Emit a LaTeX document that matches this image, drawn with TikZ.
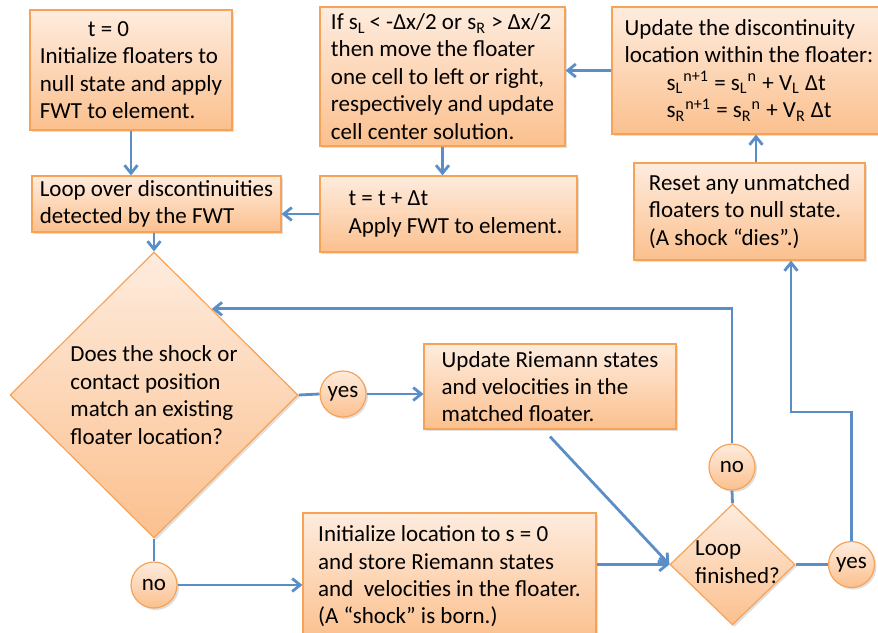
\documentclass[tikz,border=0pt]{standalone}
\usepackage{fontspec}
\setmainfont{Carlito}
\usepackage{tikz}
\usetikzlibrary{shapes.geometric,arrows.meta,calc,shadows}

\definecolor{boxtop}{RGB}{254,236,222}
\definecolor{boxbot}{RGB}{251,192,142}
\definecolor{boxline}{RGB}{246,163,88}
\definecolor{flowblue}{RGB}{91,142,199}

\tikzset{
  block/.style={draw=boxline, line width=0.6pt, top color=boxtop, bottom color=boxbot,
    align=left, inner sep=0pt,
    drop shadow={opacity=0.25, shadow xshift=1pt, shadow yshift=-1pt}},
  decide/.style={block, diamond, aspect=1},
  answer/.style={block, circle, minimum size=23pt, align=center},
  flow/.style={draw=flowblue, line width=1.4pt},
  go/.style={flow, -{Straight Barb[length=4pt,width=6.5pt]}}
}

\begin{document}
\begin{tikzpicture}[x=0.5pt,y=-0.5pt,font=\fontsize{11.5}{13.7}\selectfont]
  \useasboundingbox (0,0) rectangle (878,632);
  \clip (0,0) rectangle (878,632);

  % boxes
  \node[block, minimum width=101pt, minimum height=60pt] (Init) at (131,70)
    {\hspace*{24pt}t = 0\\Initialize floaters to\\null state and apply\\FWT to element.};
  \node[block, minimum width=124.5pt, minimum height=28pt] (Loop) at (156.5,204)
    {Loop over discontinuities\\detected by the FWT};
  \node[block, minimum width=122.5pt, minimum height=69.5pt] (Move) at (442.5,76.5)
    {If s\textsubscript{L}\,< -Δx/2 or s\textsubscript{R} > Δx/2\\then move the floater\\one cell to left or right,\\respectively and update\\cell center solution.};
  \node[block, minimum width=128.5pt, minimum height=38pt] (Tstep) at (448.5,214)
    {\hspace*{7pt}t = t + Δt\\\hspace*{7pt}Apply FWT to element.};
  \node[block, minimum width=137pt, minimum height=63.5pt] (Upd) at (749,70.5)
    {Update the discontinuity\\location within the floater:\\
     \hspace*{21pt}s\textsubscript{L}\textsuperscript{n+1} = s\textsubscript{L}\textsuperscript{n} + V\textsubscript{L} Δt\\
     \hspace*{21pt}s\textsubscript{R}\textsuperscript{n+1} = s\textsubscript{R}\textsuperscript{n} + V\textsubscript{R} Δt};
  \node[block, minimum width=115.5pt, minimum height=48.5pt] (Reset) at (749.5,211.5)
    {Reset any unmatched\\floaters to null state.\\(A shock “dies”.)};
  \node[decide, minimum width=144pt, minimum height=143pt] (Match) at (154,395)
    {Does the shock or\\contact position\\match an existing\\floater location?};
  \node[block, minimum width=126pt, minimum height=42.5pt] (Riem) at (550,386.5)
    {Update Riemann states\\and velocities in the\\matched floater.};
  \node[block, minimum width=146.5pt, minimum height=63.5pt] (Born) at (449.5,576.5)
    {Initialize location to s = 0\\and store Riemann states\\and \ velocities in the floater.\\(A “shock” is born.)};
  \node[decide, minimum width=62.5pt, minimum height=60.5pt,
    label={[align=left, xshift=2.5pt, yshift=1.2pt]center:Loop\\finished?}] (Done) at (732.5,564.5) {};

  % yes / no
  \node[answer] (YesA) at (343,394) {yes};
  \node[answer] (NoA) at (154,585) {no};
  \node[answer] (NoB) at (732,467) {no};
  \node[answer] (YesB) at (851.5,564.5) {yes};
  \coordinate (bend) at (791,412);

  % connectors
  \draw[go] (Init.south) -- (Init.south |- Loop.north);
  \draw[go] (Loop.south -| Match.north) -- (Match.north);
  \draw[go] (Move.south) -- (Move.south |- Tstep.north);
  \draw[go] (Tstep.west) -- (Tstep.west -| Loop.east);
  \draw[go] (Upd.west) -- (Upd.west -| Move.east);
  \draw[go] ([xshift=3.25pt]Reset.north) -- ([xshift=3.25pt]Reset.north |- Upd.south);
  \draw[flow] (Match.east) -- (YesA.west);
  \draw[go] (YesA.east) -- (YesA.east -| Riem.west);
  \draw[flow] (Match.south) -- (NoA.north);
  \draw[go] (NoA.east) -- (NoA.east -| Born.west);
  \draw[go] (Born.east |- Done.west) -- (Done.west);
  \draw[go] ([yshift=-3.5pt]Riem.south) -- (Done.west);
  \draw[flow] (Done.north) -- (NoB.south);
  \draw[go] (NoB.north) |- ($(Match.north)!0.4!(Match.east)$);
  \draw[flow] (Done.east) -- (YesB.west);
  \draw[go] (YesB.north) |- (bend) -- (bend |- Reset.south);
\end{tikzpicture}
\end{document}
